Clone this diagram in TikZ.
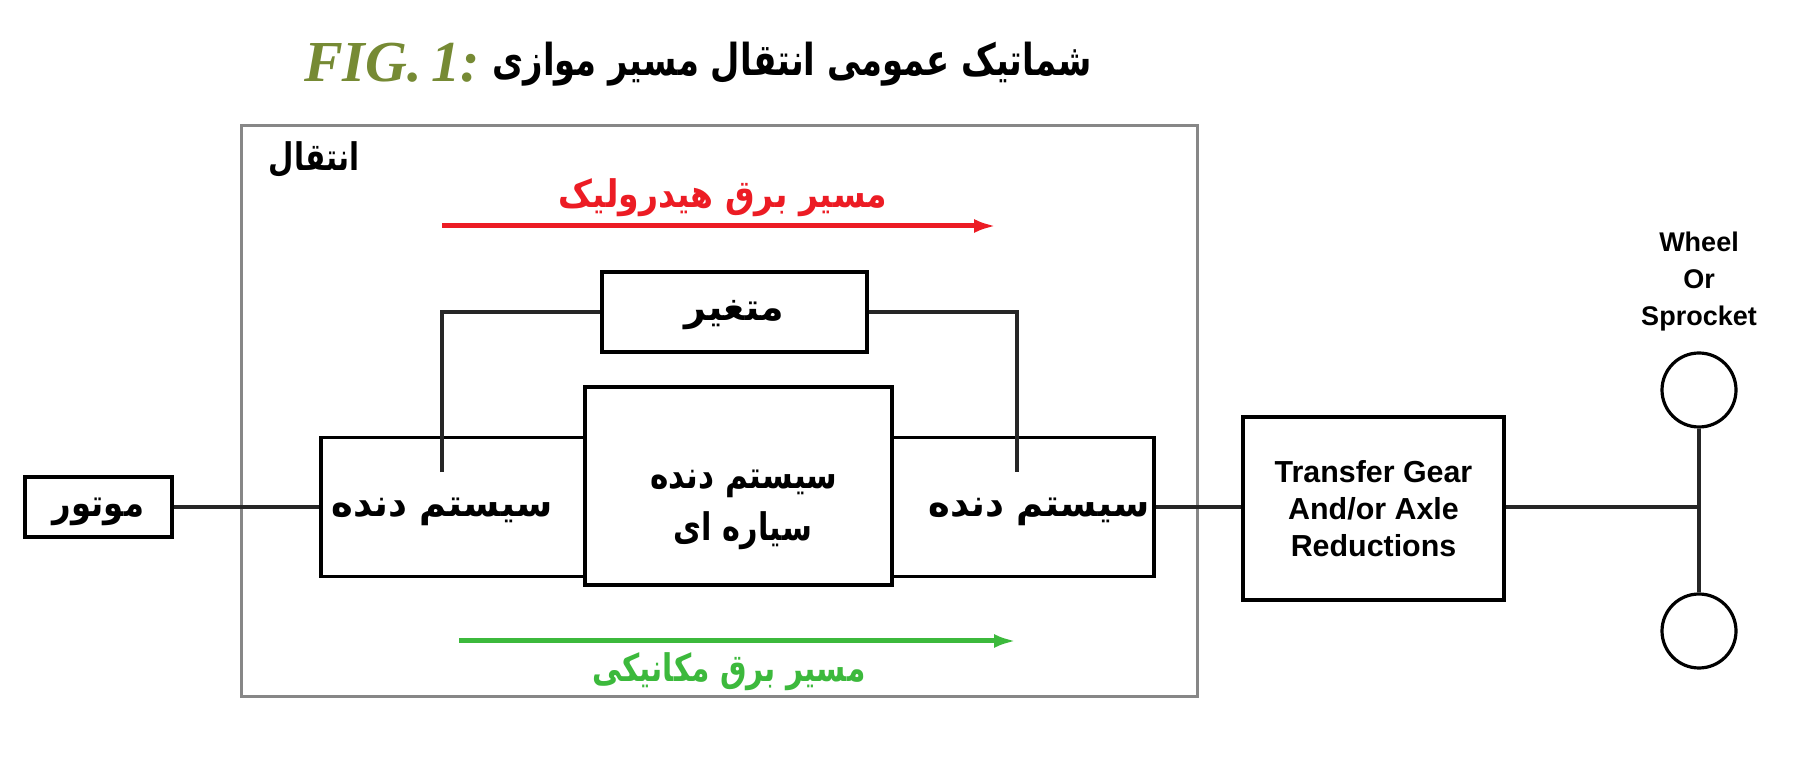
\documentclass[tikz,border=0pt]{standalone}
\usepackage{fontspec}
\usepackage{graphicx}
\setmainfont{Liberation Sans}
\newfontfamily\fa[Script=Arabic]{DejaVu Sans}
\newfontfamily\figfont{Liberation Serif}
\TeXXeTstate=1
\usetikzlibrary{arrows.meta}
\definecolor{redarr}{RGB}{236,28,36}
\definecolor{greenarr}{RGB}{60,185,60}
\definecolor{olivefig}{RGB}{118,138,52}
\definecolor{framegray}{RGB}{135,135,135}
\begin{document}
\begin{tikzpicture}[x=0.5pt,y=-0.5pt,
  box/.style={draw=black, line width=1.6pt, fill=white, inner sep=0pt, align=center},
  fatext/.style={font=\fa\bfseries\fontsize{19}{24}\selectfont},
  entext/.style={font=\bfseries\fontsize{15.2}{18.5}\selectfont, align=center},
  wire/.style={line width=1.6pt, draw=black!85},
  patharrow/.style={line width=2.5pt, -{Latex[length=11pt,width=7pt]}}]
\path[use as bounding box] (0,0) rectangle (1800,758);
\fill[white] (0,0) rectangle (1800,758);

% title
\node[font=\figfont\bfseries\itshape\fontsize{29}{32}\selectfont, text=olivefig] (fig) at (392,63) {FIG.\,1:};
\node[font=\fa\bfseries\fontsize{22}{28}\selectfont] (title) at (792,64) {\scalebox{0.77}[1]{\beginR شماتیک عمومی انتقال مسیر موازی\endR}};

% transmission frame
\node[draw=framegray, line width=1.5pt, minimum width=478pt, minimum height=285.5pt, inner sep=0pt] (frame) at (719,411.5) {};
\node[fatext] (flabel) at (314,160) {\scalebox{0.77}[1]{\beginR انتقال\endR}};

% power path arrows
\node[fatext, text=redarr] (hyd) at (723,198) {\scalebox{0.87}[1]{\beginR مسیر برق هیدرولیک\endR}};
\coordinate (hydA) at (442,226);
\coordinate (hydB) at (996,226);
\draw[patharrow, redarr] (hydA) -- (hydB);

\coordinate (mecA) at (459,641);
\coordinate (mecB) at (1016,641);
\draw[patharrow, greenarr] (mecA) -- (mecB);
\node[fatext, text=greenarr] (mec) at (729,672) {\scalebox{0.78}[1]{\beginR مسیر برق مکانیکی\endR}};

% boxes
\node[box, minimum width=73.5pt, minimum height=30pt] (mot) at (98.5,507) {};
\node[box, minimum width=132pt, minimum height=69.5pt] (lg) at (453,507) {};
\node[box, minimum width=131pt, minimum height=69.5pt] (rg) at (1023,507) {};
\node[box, minimum width=153.5pt, minimum height=99pt] (pl) at (738.5,486) {};
\node[box, minimum width=132.5pt, minimum height=40pt] (var) at (734.5,312) {};
\node[box, entext, minimum width=130.5pt, minimum height=91.5pt] (tr) at (1373.5,508.5) {Transfer Gear\\And/or Axle\\Reductions};

% box labels
\node[fatext] (motl) at ([yshift=-2.5pt]mot.center) {\scalebox{0.85}[1]{\beginR موتور\endR}};
\node[fatext] (lgl) at ([xshift=-5.5pt,yshift=-2.5pt]lg.center) {\scalebox{0.97}[1]{\beginR سیستم دنده\endR}};
\node[fatext] (rgl) at ([xshift=8pt,yshift=-2.5pt]rg.center) {\scalebox{0.97}[1]{\beginR سیستم دنده\endR}};
\node[fatext] (pl1) at (744,484) {\scalebox{0.82}[1]{\beginR سیستم دنده\endR}};
\node[fatext] (pl2) at (743,531) {\scalebox{0.8}[1]{\beginR سیاره ای\endR}};
\node[fatext] (varl) at ([yshift=-1.5pt]var.center) {\beginR متغیر\endR};

% wheels
\node[draw=black, line width=1.6pt, circle, minimum size=37pt, inner sep=0pt] (w1) at (1699,390) {};
\node[draw=black, line width=1.6pt, circle, minimum size=37pt, inner sep=0pt] (w2) at (1699,631) {};
\node[entext, font=\bfseries\fontsize{13.5}{18.5}\selectfont] (wtext) at (1699,282) {Wheel\\Or\\Sprocket};

% connectors
\coordinate (tapL) at (442,472.25);
\coordinate (tapR) at (1017,472.25);
\coordinate (axle) at (1699,507);
\draw[wire] (mot.east) -- (lg.west);
\draw[wire] (rg.east) -- (rg.east -| tr.west);
\draw[wire] (tr.east |- axle) -- (axle);
\draw[wire] (w1.south) -- (w2.north);
\draw[wire] (tapL) |- (var.west);
\draw[wire] (var.east) -| (tapR);
\end{tikzpicture}
\end{document}
